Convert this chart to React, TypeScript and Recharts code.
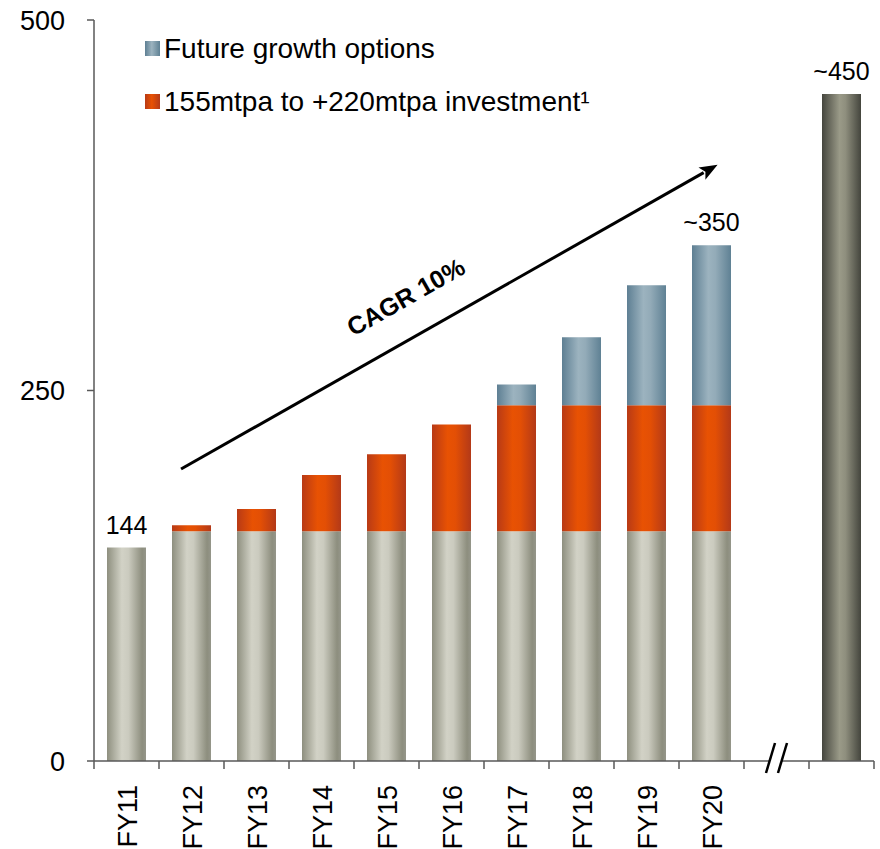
import { Bar, BarChart, LabelList, Legend, ReferenceLine, XAxis, YAxis } from "recharts"

const categories = ["FY11", "FY12", "FY13", "FY14", "FY15", "FY16", "FY17", "FY18", "FY19", "FY20", "break", "total"]
const tickLabels = ["FY11", "FY12", "FY13", "FY14", "FY15", "FY16", "FY17", "FY18", "FY19", "FY20", "", ""]
const baseCapacity = [144, 155, 155, 155, 155, 155, 155, 155, 155, 155, null, null]
const investment = [null, 4, 15, 38, 52, 72, 85, 85, 85, 85, null, null]
const futureGrowth = [null, null, null, null, null, null, 14, 46, 81, 108, null, null]
const longTerm = [null, null, null, null, null, null, null, null, null, null, null, 450]
const barLabels = ["144", "", "", "", "", "", "", "", "", "~350", "", "~450"]
const yTicks = [0, 250, 500]
const legendItems = [
  { key: "future", name: "Future growth options" },
  { key: "investment", name: "155mtpa to +220mtpa investment\u00b9" },
]
const cagrText = "CAGR 10%"
const cagrFrom = { x: "FY12", y: 201 }
const cagrTo = { x: "FY20", y: 400 }

const seriesOrder = ["base", "investment", "future", "longTerm"]

const data = categories.map((name, i) => ({
  name,
  base: baseCapacity[i],
  investment: investment[i],
  future: futureGrowth[i],
  longTerm: longTerm[i],
  label: barLabels[i],
}))

const FONT = '"Liberation Sans", Arial, sans-serif'
const AXIS = "#595959"

// only the topmost segment of a stack gets the label
function topSeries(index: number) {
  const row: any = data[index]
  let top = ""
  seriesOrder.forEach((k) => {
    if (row[k] != null && row[k] > 0) top = k
  })
  return top
}

function makeLabel(seriesKey: string) {
  return (props: any) => {
    const { x, y, width, value } = props
    if (!value) return null
    const index = barLabels.indexOf(value)
    if (index < 0 || topSeries(index) !== seriesKey) return null
    return (
      <text x={x + width / 2} y={y - 14} textAnchor="middle" fontSize={25} fill="#000" fontFamily={FONT}>
        {value}
      </text>
    )
  }
}

function CategoryTick(props: any) {
  const { x, y, payload } = props
  const idx = categories.indexOf(payload.value)
  const half = payload.offset || 32.5
  const axisY = y - 24
  const label = tickLabels[idx]
  return (
    <g>
      <line x1={x - half} x2={x - half} y1={axisY} y2={axisY + 8} stroke={AXIS} strokeWidth={1.5} />
      {idx === categories.length - 1 && (
        <line x1={x + half} x2={x + half} y1={axisY} y2={axisY + 8} stroke={AXIS} strokeWidth={1.5} />
      )}
      {payload.value === "break" && (
        <g>
          <rect x={x - 7} y={axisY - 2} width={12} height={4} fill="#fff" />
          <line x1={x - 1.5} y1={axisY - 18} x2={x - 10.5} y2={axisY + 12} stroke="#000" strokeWidth={2.5} />
          <line x1={x + 10.5} y1={axisY - 18} x2={x + 1.5} y2={axisY + 12} stroke="#000" strokeWidth={2.5} />
        </g>
      )}
      {label && (
        <text
          transform={`translate(${x + 10},${y}) rotate(-90)`}
          textAnchor="end"
          fontSize={27}
          fill="#000"
          fontFamily={FONT}
        >
          {label}
        </text>
      )}
    </g>
  )
}

function CagrArrow(props: any) {
  const { x1, y1, x2, y2 } = props
  const dx = x2 - x1
  const dy = y2 - y1
  const len = Math.hypot(dx, dy)
  const ux = dx / len
  const uy = dy / len
  const sx = x1 - ux * 12
  const sy = y1 - uy * 12
  const ex = x2 + ux * 7
  const ey = y2 + uy * 7
  const bx = ex - ux * 18
  const by = ey - uy * 18
  const px = uy
  const py = -ux
  const angle = (Math.atan2(dy, dx) * 180) / Math.PI
  const mx = (sx + ex) / 2 - ux * 28 + px * 30
  const my = (sy + ey) / 2 - uy * 28 + py * 30
  return (
    <g>
      <line x1={sx} y1={sy} x2={bx + ux * 2} y2={by + uy * 2} stroke="#000" strokeWidth={3} />
      <polygon
        points={`${ex},${ey} ${bx + px * 7},${by + py * 7} ${bx + ux * 4},${by + uy * 4} ${bx - px * 7},${by - py * 7}`}
        fill="#000"
      />
      <text
        transform={`translate(${mx},${my}) rotate(${angle})`}
        textAnchor="middle"
        fontSize={25}
        fontWeight="bold"
        fill="#000"
        fontFamily={FONT}
      >
        {cagrText}
      </text>
    </g>
  )
}

const swatch: Record<string, string> = {
  future: "linear-gradient(to right, #5e7f93, #9cb3bf 45%, #5f8194)",
  investment: "linear-gradient(to right, #b83a16, #e85203 45%, #b53a18)",
}

function LegendBox() {
  return (
    <div style={{ fontFamily: FONT, fontSize: 28, color: "#000" }}>
      {legendItems.map((item) => (
        <div key={item.key} style={{ display: "flex", alignItems: "center", height: 53, whiteSpace: "nowrap" }}>
          <span style={{ display: "inline-block", width: 15, height: 15, marginRight: 4, background: swatch[item.key] }} />
          {item.name}
        </div>
      ))}
    </div>
  )
}

export default function App() {
  return (
    <div style={{ position: "absolute", left: 0, top: 0, background: "#fff" }}>
      <BarChart
        width={880}
        height={849}
        data={data}
        margin={{ top: 20, right: 6, left: 0, bottom: 0 }}
        barSize={39}
        style={{ fontFamily: FONT }}
      >
        <defs>
          <linearGradient id="gBase" x1="0" y1="0" x2="1" y2="0">
            <stop offset="0" stopColor="#8e8f7f" />
            <stop offset="0.38" stopColor="#d2d2c6" />
            <stop offset="0.55" stopColor="#cbcbbf" />
            <stop offset="0.9" stopColor="#8d8e7e" />
            <stop offset="1" stopColor="#95968a" />
          </linearGradient>
          <linearGradient id="gInv" x1="0" y1="0" x2="1" y2="0">
            <stop offset="0" stopColor="#b83a16" />
            <stop offset="0.4" stopColor="#e85203" />
            <stop offset="0.6" stopColor="#e34f05" />
            <stop offset="1" stopColor="#b33918" />
          </linearGradient>
          <linearGradient id="gFut" x1="0" y1="0" x2="1" y2="0">
            <stop offset="0" stopColor="#5e7f93" />
            <stop offset="0.42" stopColor="#9cb3bf" />
            <stop offset="0.6" stopColor="#93abb8" />
            <stop offset="1" stopColor="#5f8194" />
          </linearGradient>
          <linearGradient id="gLong" x1="0" y1="0" x2="1" y2="0">
            <stop offset="0" stopColor="#45463e" />
            <stop offset="0.45" stopColor="#9a9a88" />
            <stop offset="0.6" stopColor="#8f8f7e" />
            <stop offset="1" stopColor="#44453d" />
          </linearGradient>
        </defs>
        <XAxis
          dataKey="name"
          height={88}
          interval={0}
          tickLine={false}
          tickSize={8}
          tickMargin={16}
          axisLine={{ stroke: AXIS, strokeWidth: 1.5 }}
          tick={<CategoryTick />}
        />
        <YAxis
          width={94}
          domain={[0, 500]}
          ticks={yTicks}
          tickSize={7}
          tickMargin={22}
          axisLine={{ stroke: AXIS, strokeWidth: 1.5 }}
          tickLine={{ stroke: AXIS, strokeWidth: 1.5 }}
          tick={{ fontSize: 27, fill: "#000", fontFamily: FONT }}
        />
        <Legend
          layout="vertical"
          align="center"
          verticalAlign="middle"
          wrapperStyle={{ top: 22, left: 145, width: "auto" }}
          content={() => <LegendBox />}
        />
        <Bar dataKey="base" stackId="a" fill="url(#gBase)" isAnimationActive={false}>
          <LabelList dataKey="label" content={makeLabel("base")} />
        </Bar>
        <Bar dataKey="investment" stackId="a" fill="url(#gInv)" isAnimationActive={false}>
          <LabelList dataKey="label" content={makeLabel("investment")} />
        </Bar>
        <Bar dataKey="future" stackId="a" fill="url(#gFut)" isAnimationActive={false}>
          <LabelList dataKey="label" content={makeLabel("future")} />
        </Bar>
        <Bar dataKey="longTerm" stackId="a" fill="url(#gLong)" isAnimationActive={false}>
          <LabelList dataKey="label" content={makeLabel("longTerm")} />
        </Bar>
        <ReferenceLine
          segment={[cagrFrom, cagrTo]}
          stroke="#000"
          shape={(p: any) => <CagrArrow {...p} />}
        />
      </BarChart>
    </div>
  )
}
